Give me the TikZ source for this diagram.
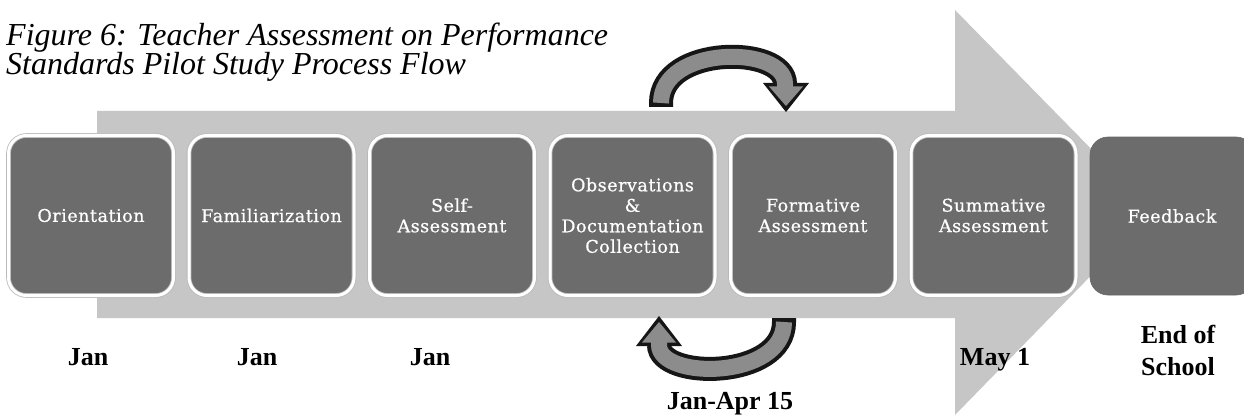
\documentclass[tikz,border=0pt]{standalone}
\usepackage{fontspec}
\setmainfont{Liberation Serif}
\newfontfamily\boxfont[LetterSpace=3,FakeBold=0.6]{DejaVu Serif}
\definecolor{boxgray}{RGB}{108,108,108}
\definecolor{shaftgray}{RGB}{198,198,198}
\definecolor{ringgray}{RGB}{140,140,140}
\definecolor{ringdark}{RGB}{22,22,22}
\begin{document}
\begin{tikzpicture}[x=1pt,y=-1pt,
  stage/.style={draw=gray!55, double=white, double distance=3pt, line width=0.8pt,
    fill=boxgray, rounded corners=18pt, minimum width=165pt, minimum height=160pt,
    text=white, font=\boxfont\fontsize{17.5}{20.5}\selectfont, align=center, inner sep=0pt},
  endstage/.style={fill=boxgray, draw=gray!80!black, line width=0.6pt, rounded corners=18pt,
    minimum width=164pt, minimum height=158pt,
    text=white, font=\boxfont\fontsize{17.5}{20.5}\selectfont, align=center, inner sep=0pt},
  datelabel/.style={font=\fontsize{26}{32}\selectfont\bfseries, align=center, inner sep=0pt},
  titlelabel/.style={font=\fontsize{32}{30}\selectfont\itshape, anchor=base west, inner sep=0pt},
  ringout/.style={draw=ringdark, line width=24pt},
  ringin/.style={draw=ringgray, line width=16pt},
]
\useasboundingbox (0,0) rectangle (1244,417);
\clip (0,0) rectangle (1244,417);
\fill[white] (0,0) rectangle (1244,417);

% big process arrow
\fill[shaftgray] (97,111) -- (955,111) -- (955,10) -- (1153,212) -- (955,415) -- (955,318) -- (97,318) -- cycle;

% title
\node[titlelabel] (t1) at (6,46) {Figure 6: Teacher Assessment on Performance};
\node[titlelabel] (t2) at (6,75) {Standards Pilot Study Process Flow};

% stages
\node[stage] (s1) at (91,215.5) {Orientation};
\node[stage] (s2) at (271.5,215.5) {Familiarization};
\node[stage] (s3) at (452,215.5) {Self-\\Assessment};
\node[stage] (s4) at (632.5,215.5) {Observations\\\&\\Documentation\\Collection};
\node[stage] (s5) at (813,215.5) {Formative\\Assessment};
\node[stage] (s6) at (993.5,215.5) {Summative\\Assessment};
\node[endstage] (s7) at (1172,216) {Feedback};

% cycle arrow above
\coordinate (ta0) at (661,107);
\coordinate (ta) at (661,103);
\coordinate (tb) at (785,84);
\draw[ringout] (ta0) -- (ta) .. controls (661,45) and (785,45) .. (tb);
\fill[ringdark] (763,83) -- (809,83) -- (786,112) -- cycle;
\draw[ringin] (ta) .. controls (661,45) and (785,45) .. (tb) -- (785,90);
\fill[ringgray] (769,86.5) -- (803,86.5) -- (786,106) -- cycle;

% cycle arrow below
\coordinate (ba0) at (784,318);
\coordinate (ba) at (784,322);
\coordinate (bb) at (659,345);
\draw[ringout] (ba0) -- (ba) .. controls (784,380) and (659,380) .. (bb);
\fill[ringdark] (636,346) -- (682,346) -- (659,316) -- cycle;
\draw[ringin] (ba) .. controls (784,380) and (659,380) .. (bb) -- (659,339);
\fill[ringgray] (642,342.5) -- (676,342.5) -- (659,322) -- cycle;

% dates
\node[datelabel, anchor=base] (d1) at (88,365) {Jan};
\node[datelabel, anchor=base] (d2) at (257,365) {Jan};
\node[datelabel, anchor=base] (d3) at (430,365) {Jan};
\node[datelabel, anchor=base] (d4) at (730,409) {Jan-Apr 15};
\node[datelabel, anchor=base] (d6) at (995,365) {May 1};
\node[datelabel, anchor=base] (d7) at (1178,375) {End of\\School};
\end{tikzpicture}
\end{document}
